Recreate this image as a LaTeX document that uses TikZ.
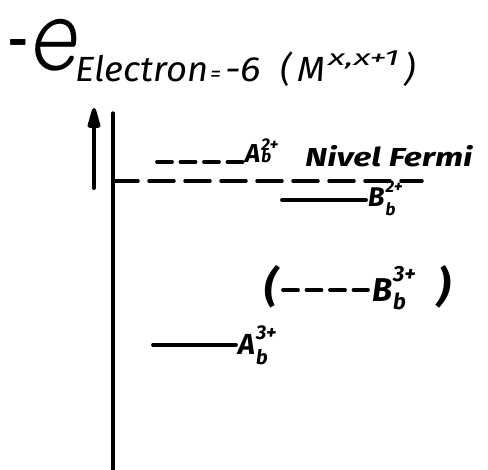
\documentclass[tikz,border=0pt]{standalone}
\usepackage{fontspec}
\setmainfont{Fira Sans}
\newfontfamily\thinfont{lmmonolt10-oblique.otf}
\usetikzlibrary{arrows.meta}
% #1 main size, #2 small size, #3 letter, #4 sub, #5 sup, #6 sub drop, #7 sup raise
\newcommand\ionlab[7]{{\fontsize{#1}{#1}\selectfont #3}\kern1pt\rlap{\raisebox{-#6}{\fontsize{#2}{#2}\selectfont #4}}\raisebox{#7}{\fontsize{#2}{#2}\selectfont #5}}
\newcommand\fitw[2]{\resizebox{#1}{\height}{#2}}
\begin{document}
\begin{tikzpicture}[x=1pt,y=-1pt,line cap=round]
\tikzset{
  lbl/.style={inner sep=0pt, font=\bfseries\itshape},
  lvl/.style={line width=3.8pt},
  lvldash/.style={line width=3.8pt, dash pattern=on 15pt off 8.5pt},
  fermi/.style={line width=3.5pt, dash pattern=on 25pt off 11pt},
  axisline/.style={line width=3.2pt},
}
\useasboundingbox[fill=white] (0,0) rectangle (488,470);
% title
\node[inner sep=0pt, anchor=base, font=\fontsize{48}{48}\selectfont\bfseries] (minus) at (18,58) {-};
\node[inner sep=0pt, anchor=base, font=\thinfont\fontsize{118}{118}\selectfont] (e) at (53,71) {\scalebox{0.85}[1]{e}};
\node[inner sep=0pt, anchor=base west, font=\fontsize{35}{35}\selectfont\itshape] (title) at (75,82)
  {\makebox[135pt][l]{\fitw{133pt}{Electron}}\makebox[15pt][l]{\fontsize{22}{22}\selectfont=}\makebox[55pt][l]{\fitw{36pt}{-6}}\makebox[17pt][l]{(}\makebox[31pt][l]{\fitw{28pt}{M}}\makebox[76pt][l]{\raisebox{16pt}{\fontsize{22}{22}\selectfont\fitw{71pt}{x,x+1}}})};
% axis and arrow
\coordinate (axtop) at (113,113);
\coordinate (axbot) at (113,470);
\draw[axisline] (axtop) -- (axbot);
\coordinate (arB) at (94,188);
\coordinate (arT) at (94,108);
\draw[line width=4pt, -{Triangle[length=26pt,width=13pt,round]}] (arB) -- (arT);
% Fermi level
\coordinate (f0) at (113,181);
\coordinate (f1) at (422,181);
\draw[fermi] (f0) -- (f1);
% A 2+
\coordinate (a2l) at (157,162);
\coordinate (a2r) at (243,162);
\draw[lvldash] (a2l) -- (a2r);
\node[lbl, anchor=base west] (a2) at (245,163) {\ionlab{26}{17}{A}{b}{2+}{0pt}{12pt}};
\node[lbl, anchor=base west, font=\fontsize{26}{26}\selectfont\bfseries\itshape] (fermi) at (305,167) {\scalebox{1.3}[1]{Nivel Fermi}};
% B 2+
\coordinate (b2l) at (282,200);
\coordinate (b2r) at (366,200);
\draw[lvl] (b2l) -- (b2r);
\node[lbl, anchor=base west] (b2) at (368,207) {\ionlab{27}{17}{B}{b}{2+}{9pt}{14pt}};
% B 3+
\node[lbl, anchor=base west, font=\fontsize{42}{42}\selectfont\bfseries\itshape] (lp) at (264,302) {(};
\coordinate (b3l) at (283,290);
\coordinate (b3r) at (368,290);
\draw[lvldash] (b3l) -- (b3r);
\node[lbl, anchor=base west] (b3) at (372,302) {\ionlab{33}{22}{B}{b}{3+}{8pt}{20pt}};
\node[lbl, anchor=base west, font=\fontsize{42}{42}\selectfont\bfseries\itshape] (rp) at (437,302) {)};
% A 3+
\coordinate (a3l) at (153,345);
\coordinate (a3r) at (236,345);
\draw[lvl] (a3l) -- (a3r);
\node[lbl, anchor=base west] (a3) at (238,355) {\ionlab{29}{20}{A}{b}{3+}{10pt}{15pt}};
\end{tikzpicture}
\end{document}
